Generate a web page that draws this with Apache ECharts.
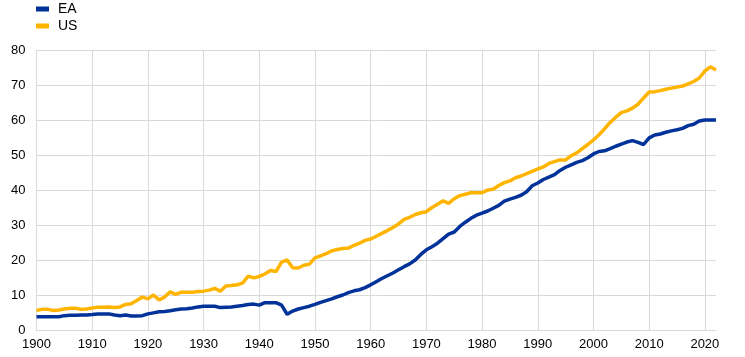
<!DOCTYPE html>
<html><head><meta charset="utf-8">
<script src="https://cdn.jsdelivr.net/npm/echarts@6/dist/echarts.min.js"></script>
<style>html,body{margin:0;padding:0;background:#fff}#c{width:745px;height:357px}</style>
</head><body><div id="c"></div>
<script>
var years = [];
for (var y = 1900; y <= 2022; y++) years.push(String(y));
var seriesNames = ['EA', 'US'];
var ea = [3.8,3.8,3.8,3.8,3.8,4.1,4.2,4.2,4.3,4.3,
4.4,4.6,4.6,4.6,4.3,4.1,4.3,4.0,4.0,4.1,
4.6,4.9,5.2,5.3,5.5,5.8,6.0,6.1,6.3,6.6,
6.8,6.8,6.8,6.4,6.5,6.6,6.8,7.0,7.3,7.4,
7.1,7.8,7.8,7.8,7.1,4.5,5.4,6.0,6.4,6.8,
7.3,7.9,8.4,8.9,9.5,10.0,10.7,11.2,11.5,12.1,
12.9,13.8,14.7,15.5,16.3,17.2,18.1,18.9,20.0,21.6,
22.9,23.8,24.8,26.1,27.4,28.0,29.6,30.8,31.9,32.8,
33.4,34.0,34.8,35.6,36.8,37.4,37.9,38.5,39.5,41.2,
42.0,43.0,43.7,44.4,45.6,46.5,47.2,47.9,48.4,49.2,
50.3,51.0,51.2,51.8,52.5,53.1,53.7,54.1,53.6,53.0,
54.9,55.7,56.0,56.5,56.9,57.2,57.6,58.4,58.8,59.7,
60.0,60.0,60.0];
var us = [5.6,5.9,5.9,5.6,5.7,6.0,6.2,6.2,5.9,6.0,
6.3,6.5,6.5,6.6,6.4,6.6,7.3,7.5,8.4,9.4,
8.9,10.0,8.6,9.4,10.9,10.2,10.8,10.8,10.8,11.0,
11.1,11.4,11.9,11.1,12.6,12.7,12.9,13.4,15.4,14.9,
15.3,16.0,17.0,16.7,19.4,20.0,17.8,17.7,18.5,18.8,
20.6,21.2,21.8,22.6,23.0,23.3,23.4,24.2,24.8,25.6,
26.0,26.8,27.6,28.4,29.3,30.3,31.6,32.2,33.0,33.5,
33.8,35.0,35.9,36.9,36.2,37.5,38.4,38.8,39.2,39.2,
39.2,40.0,40.2,41.3,42.1,42.6,43.5,44.0,44.7,45.3,
46.0,46.6,47.6,48.1,48.6,48.6,49.8,50.6,51.8,53.0,
54.3,55.8,57.5,59.3,60.8,62.1,62.6,63.4,64.5,66.3,
68.0,68.1,68.4,68.8,69.1,69.4,69.7,70.3,71.0,72.0,
74.0,75.2,74.3];
var yTicks = {min: 0, max: 80, interval: 10};

var chart = echarts.init(document.getElementById('c'));
chart.setOption({
  animation: false,
  textStyle: {fontFamily: 'Liberation Sans, Arial, sans-serif'},
  legend: {
    orient: 'vertical', left: 36, top: 2, padding: 0, itemWidth: 13, itemHeight: 5,
    itemGap: 3, icon: 'rect',
    textStyle: {fontSize: 14, color: '#000', padding: [4, 0, 0, 4], fontFamily: 'Liberation Sans, Arial, sans-serif'},
    data: seriesNames
  },
  grid: {left: 36.5, right: 29, top: 50, bottom: 27, containLabel: false},
  xAxis: {
    type: 'category', data: years, boundaryGap: false,
    axisLine: {show: true, lineStyle: {color: '#d9d9d9'}},
    axisTick: {show: false},
    axisLabel: {interval: 9, color: '#000', fontSize: 13, margin: 8},
    splitLine: {show: true, interval: 9, lineStyle: {color: '#d9d9d9', width: 1}}
  },
  yAxis: {
    type: 'value', min: yTicks.min, max: yTicks.max, interval: yTicks.interval,
    axisLine: {show: false}, axisTick: {show: false},
    axisLabel: {color: '#000', fontSize: 13, margin: 11},
    splitLine: {lineStyle: {color: '#d9d9d9', width: 1}}
  },
  series: [
    {name: seriesNames[0], type: 'line', data: ea, showSymbol: false, symbol: 'none',
     lineStyle: {color: '#003299', width: 3.5}, itemStyle: {color: '#003299'}},
    {name: seriesNames[1], type: 'line', data: us, showSymbol: false, symbol: 'none',
     lineStyle: {color: '#FFB400', width: 3.5}, itemStyle: {color: '#FFB400'}}
  ]
});
</script></body></html>
